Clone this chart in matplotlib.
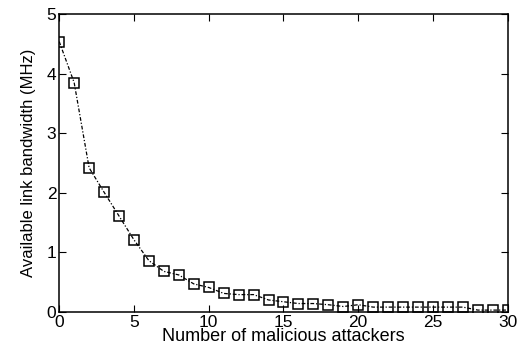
import matplotlib
matplotlib.use("Agg")
import matplotlib.pyplot as plt

# Datos
attackers = list(range(0, 31))
bandwidth_mhz = [4.54, 3.85, 2.42, 2.01, 1.61, 1.21, 0.86, 0.68, 0.62, 0.47,
                 0.41, 0.31, 0.29, 0.29, 0.20, 0.17, 0.14, 0.14, 0.12, 0.09,
                 0.12, 0.08, 0.08, 0.08, 0.08, 0.08, 0.08, 0.08, 0.03, 0.03,
                 0.03]

plt.rcParams['font.family'] = ['Liberation Sans', 'DejaVu Sans']

fig = plt.figure(figsize=(5.24, 3.54), dpi=100)
ax = fig.add_axes([0.113, 0.119, 0.856, 0.841])

ax.plot(attackers, bandwidth_mhz, color='black', linestyle=(0, (3, 1.5, 1, 1.5)),
        linewidth=0.9, marker='s', markersize=6.5, markerfacecolor='none',
        markeredgecolor='black', markeredgewidth=1.1)

ax.set_xlim(0, 30)
ax.set_ylim(0, 5)
ax.set_xticks([0, 5, 10, 15, 20, 25, 30])
ax.set_yticks([0, 1, 2, 3, 4, 5])
ax.tick_params(direction='in', top=True, right=True, labelsize=12.5, length=5, pad=2)
for s in ax.spines.values():
    s.set_linewidth(1.1)

ax.set_xlabel('Number of malicious attackers', fontsize=13, labelpad=-1)
ax.set_ylabel('Available link bandwidth (MHz)', fontsize=12, labelpad=8)

plt.savefig("out.png", dpi=100)
